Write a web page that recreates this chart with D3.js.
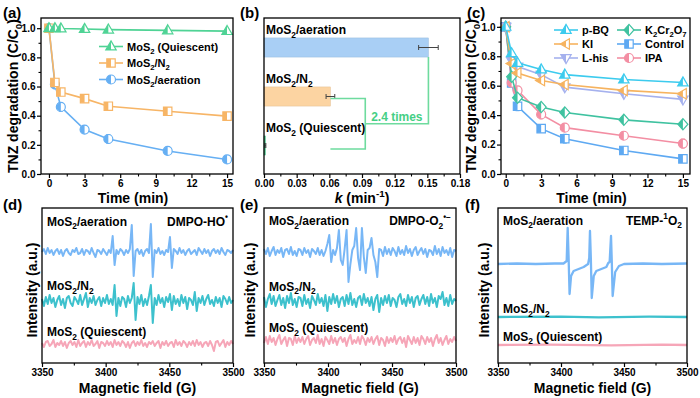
<!DOCTYPE html>
<html>
<head>
<meta charset="utf-8">
<script src="https://cdn.jsdelivr.net/npm/d3@7"></script>
<style>
  body { margin: 0; background: #fff; }
  svg { display: block; font-family: "Liberation Sans", Arial, Helvetica, sans-serif; font-weight: bold; }
</style>
</head>
<body>
<svg id="fig" width="700" height="398"></svg>
<script>
// ---- data: (a) TNZ degradation under different atmospheres ----
const TIMES = [0, 0.5, 1, 3, 5, 10, 15];
const TIME_TICKS = [0, 3, 6, 9, 12, 15];
const RATIO_TICKS = [0, 0.2, 0.4, 0.6, 0.8, 1.0];
const A_NAMES = ['MoS_{2} (Quiescent)', 'MoS_{2}/N_{2}', 'MoS_{2}/aeration'];
const A_QUIESCENT = [1.0, 1.0, 0.998, 0.995, 0.99, 0.985, 0.98];
const A_N2 = [1.0, 0.628, 0.562, 0.517, 0.465, 0.43, 0.397];
const A_AERATION = [1.0, 0.615, 0.46, 0.305, 0.24, 0.158, 0.10];
const A_ERR_QUIESCENT = [0, 0, 0, 0, 0, 0, 0];
const A_ERR_N2 = [0, 0.02, 0.012, 0.01, 0.012, 0.01, 0.01];
const A_ERR_AERATION = [0, 0.03, 0.03, 0.01, 0.03, 0.022, 0.01];

// ---- data: (b) rate constants ----
const B_NAMES = ['MoS_{2}/aeration', 'MoS_{2}/N_{2}', 'MoS_{2} (Quiescent)'];
const B_K = [0.151, 0.061, 0.0013];
const B_ERR = [0.009, 0.004, 0.0004];
const B_RATIO_TEXT = '2.4 times';
const K_TICKS = [0, 0.03, 0.06, 0.09, 0.12, 0.15, 0.18];

// ---- data: (c) scavenger tests ----
const C_NAMES = ['p-BQ', 'KI', 'L-his', 'K_{2}Cr_{2}O_{7}', 'Control', 'IPA'];
const C_PBQ = [1.0, 0.82, 0.755, 0.71, 0.675, 0.642, 0.622];
const C_KI = [1.0, 0.75, 0.686, 0.635, 0.608, 0.568, 0.545];
const C_LHIS = [1.0, 0.77, 0.73, 0.675, 0.59, 0.545, 0.507];
const C_K2CR2O7 = [1.0, 0.66, 0.518, 0.455, 0.418, 0.368, 0.338];
const C_CONTROL = [1.0, 0.618, 0.46, 0.308, 0.24, 0.16, 0.103];
const C_IPA = [1.0, 0.62, 0.568, 0.405, 0.315, 0.26, 0.207];
const C_ERR_LHIS = [0, 0, 0, 0, 0.02, 0.01, 0.01];
const C_ERR_CONTROL = [0, 0.01, 0.03, 0.01, 0.03, 0.025, 0.01];
const C_ERR_IPA = [0, 0, 0.01, 0.03, 0.02, 0.025, 0.03];

// ---- data: (d)-(f) EPR spectra, one value per 1.5 G, intensity in a.u. ----
const FIELD_TICKS = [3350, 3400, 3450, 3500];
const FIELD_MINOR = [3375, 3425, 3475];
const FIELD = d3.range(3350, 3500.01, 1.5);
const EPR_NAMES = ['MoS_{2}/aeration', 'MoS_{2}/N_{2}', 'MoS_{2} (Quiescent)'];

const D_AERATION = [
   0, 3,-2, 4,-1, 2,-3, 1, 3,-2,
   2,-4, 1, 3,-1,-3, 2, 0, 4,-2,
  -1, 3,-3, 2, 1,-2, 4,-1,-5, 2,
   1,-2, 3, 0,-3, 2,-1,16,-13, 2,
  -2, 3, 1,-3, 2,-1, 3,27,-24, 1,
   3,-2, 2,-4, 1, 3,-1,28,-25, 2,
  -1, 4,-2, 1,-3, 2, 0,15,-16, 3,
   1,-2, 4,-1, 2,-3, 1, 3,-2, 0,
   2,-3, 4, 1,-2, 3,-1, 2,-4, 1,
   3,-1, 2,-2, 4, 0,-3, 2, 1,-1, 2];
const D_N2 = [
   2,-5, 4,-3, 6,-2, 3,-6, 1, 5,
  -4, 2,-7, 3, 5,-2,-5, 4, 1,-3,
   6,-4, 2, 8,-6, 3,-2, 5,-4, 1,
   4,-5, 3,-2, 6,-3, 2,-4,16,-15,
   3,-5, 4, 2,-6, 5,-2, 3,18,-19,
   4,-3, 6,-5, 2,-4, 5,16,-22, 3,
  -4, 6,-2, 3,-6, 4,-1, 7,-9, 5,
  -3, 2,-5, 6,-2, 4,-8, 3, 1,-4,
   9,-10, 3,-2, 5,-4, 2, 6,-3, 1,
  -5, 4,-2, 3,-6, 5, 2,-3, 4,-2, 1];
const D_QUIESCENT = [
   1,-3, 2, 3,-2, 0, 4,-3, 1,-1,
   3,-2, 2,-4, 1, 3,-1, 2,-3, 4,
  -2, 1, 3,-3, 2,-1, 4,-2, 0, 3,
  -4, 2, 1,-2, 3,-1, 2,-3, 4,-1,
   2,-2, 3, 1,-3, 2,-4, 1, 3,-2,
   2,-1, 4,-2, 1,-3, 2, 0, 3,-2,
   1, 3,-4, 2,-1, 3,-2, 1, 2,-3,
   4,-1, 2,-2, 3, 1,-3, 2,-1, 3,
  -2, 4,-1, 2,-3, 1, 2,-2, 3,-1,
  -7, 2, 3,-2, 1, 4,-3, 2,-1, 3, 0];

const E_AERATION = [
   3,-2, 4,-4, 1, 5,-3, 2,-1, 4,
  -5, 2, 3,-2, 5,-3, 1,-4, 3, 2,
  -3, 4,-1, 2,-5, 3, 1,-2, 4,-3,
   2,-4, 1, 8,17,-10, 2,-3, 4,22,
  -8,-13, 3,22,-30,-12, 2, 6,24,-6,
  -18,24,-5,-21, 2, 4,14,-3,-10,-25,
   3, 2,-4, 5,-2, 3,-3, 4, 1,-4,
   5,-2, 2,-3, 6,-1, 3,-4, 2, 5,
  -3, 1, 4,-2, 3,-5, 2, 1,-3, 6,
  -2, 3,-4, 5,-1, 2,-3, 4,-5, 2, 1];
const E_N2 = [
   4,-6, 2, 7,-3, 5,-5, 1, 6,-4,
   3,-7, 5,-2, 8,-4, 2,-6, 4, 3,
  -5, 6,-3, 2,-7, 5, 1,-4, 7,-2,
   3,-5, 6,-10, 4,-3, 7,-2, 5,-6,
   2, 4,-5, 6,-3, 8,-4, 2,-6, 3,
   5,-4, 7,-2, 3,-5, 4,-9, 2, 6,
  -11, 3,-4, 5,-2, 6,-5, 3, 1,-6,
   4, 7,-3, 2,-5, 6,-2, 4,-6, 3,
   5,-4, 2, 6,-3, 4,-5, 7,-2, 3,
  -6, 5, 2, 9,-4, 3,-5, 6,-3, 2, 0];
const E_QUIESCENT = [
  -2, 4,-3, 5,-1, 3,-4, 2, 6,-3,
   1, 4,-5, 3, 2,-4, 5,-2, 3,-1,
   4,-3, 2, 5,-4, 1, 3,-2, 6,-3,
   2,-5, 4, 1,-3, 5,-2, 3,-4, 2,
   4,-1, 3,-5, 2, 6,-3, 1,-2, 4,
  -3, 5, 2,-4, 3,-1, 4,-3, 2, 5,
  -4, 3, 1,-5, 4,-2, 3,-1, 5,-3,
   2, 4,-2, 3,-6, 5, 1,-3, 4,-2,
   3,-4, 5, 2,-3, 4,-1, 3,-5, 2,
   6,-2, 3,-4, 1, 5,-3, 2,-1, 4, 0];

// (f) TEMP spectrum as [field, intensity] pairs
const F_AERATION = [
  [3350, 0], [3365, 0.5], [3380, 0], [3395, 0.5], [3402, 0.5], [3404.5, 3],
  [3405.3, 36], [3406, 8], [3406.8, -30], [3408, -12], [3410, -7], [3414, -5],
  [3418, -3], [3421.5, 0], [3422.4, 6], [3423, 33], [3423.7, 5], [3424.4, -34],
  [3426, -12], [3428, -7], [3432, -5], [3436, -3], [3437.5, 1], [3438.6, 2],
  [3439.7, 28], [3440.3, 3], [3441, -32], [3443, -8], [3446, -2], [3450, 0],
  [3465, 0.5], [3480, 0], [3500, 0.5]];
const F_N2 = [[3350, 0], [3400, 0.4], [3430, -0.3], [3470, 0.3], [3500, 0]];
const F_QUIESCENT = [[3350, 0], [3390, 0.3], [3440, -0.3], [3480, 0.3], [3500, 0]];

// ---- layout ----
const PANELS = {
  a: { x0: 41, x1: 233, y0: 18, y1: 174 },
  b: { x0: 264, x1: 460, y0: 18, y1: 174 },
  c: { x0: 501, x1: 690, y0: 18, y1: 174 },
  d: { x0: 42, x1: 233, y0: 208, y1: 363 },
  e: { x0: 264, x1: 456, y0: 208, y1: 363 },
  f: { x0: 498, x1: 687, y0: 208, y1: 363 }
};
const COL = {
  green: '#4fd395', orange: '#f7b566', blue: '#66aff3',
  barBlue: '#a9cff5', barOrange: '#fcd4a2',
  pbq: '#3ccbee', ki: '#f6b35f', lhis: '#a5b1ee', k2: '#3fc2a0', control: '#5ea9f2', ipa: '#f38ea3',
  eprBlue: '#78b7f6', eprTeal: '#3dc1cd', eprPink: '#f6a6b8'
};
const SHAPES = {
  up: 'M0,-5.6L5.2,3.4L-5.2,3.4Z',
  down: 'M0,5.6L5.2,-3.4L-5.2,-3.4Z',
  left: 'M-5.6,0L3.4,-5.2L3.4,5.2Z',
  square: 'M-4.2,-4.2H4.2V4.2H-4.2Z',
  diamond: 'M0,-5.6L5,0L0,5.6L-5,0Z',
  circle: 'M-4.5,0A4.5,4.5 0 1,0 4.5,0A4.5,4.5 0 1,0 -4.5,0Z'
};
const TITLE_FS = 14;

const svg = d3.select('#fig');
svg.append('defs').append('clipPath').attr('id', 'halfL')
  .append('rect').attr('x', -10).attr('y', -10).attr('width', 10).attr('height', 20);

// text with _{sub}, ^{sup} and ~{italic} pieces
function rich(sel, str, fs) {
  const parts = str.split(/(_\{[^}]*\}|\^\{[^}]*\}|~\{[^}]*\})/);
  let shift = 0;
  parts.forEach(p => {
    if (!p) return;
    let t = p, target = 0, size = fs, italic = false;
    if (p[0] === '_' && p[1] === '{') { t = p.slice(2, -1); target = fs * 0.3; size = fs * 0.7; }
    else if (p[0] === '^' && p[1] === '{') { t = p.slice(2, -1); target = -fs * 0.42; size = fs * 0.7; }
    else if (p[0] === '~' && p[1] === '{') { t = p.slice(2, -1); italic = true; }
    const ts = sel.append('tspan').attr('font-size', size).text(t);
    if (target - shift !== 0) ts.attr('dy', target - shift);
    if (italic) ts.attr('font-style', 'italic');
    shift = target;
  });
  return sel;
}

function label(x, y, str, fs, anchor, fill) {
  const t = svg.append('text').attr('x', x).attr('y', y)
    .attr('font-size', fs).attr('text-anchor', anchor || 'start').attr('fill', fill || '#000');
  return rich(t, str, fs);
}

function yTitle(cx, cy, str) {
  const t = svg.append('text').attr('transform', `translate(${cx},${cy}) rotate(-90)`)
    .attr('text-anchor', 'middle').attr('dy', '0.36em').attr('font-size', TITLE_FS);
  rich(t, str, TITLE_FS);
}

function frame(p) {
  svg.append('rect').attr('x', p.x0).attr('y', p.y0)
    .attr('width', p.x1 - p.x0).attr('height', p.y1 - p.y0)
    .attr('fill', 'none').attr('stroke', '#000').attr('stroke-width', 1.3);
}

function bottomAxis(p, x, majors, minors, fmt) {
  const g = svg.append('g').attr('transform', `translate(0,${p.y1})`);
  g.call(d3.axisBottom(x).tickValues(majors).tickSize(4).tickSizeOuter(0).tickFormat(fmt));
  g.call(s => s.select('.domain').remove());
  g.selectAll('.tick line').attr('stroke-width', 1.2);
  g.selectAll('.tick text').attr('font-size', 10).attr('font-family', null).attr('dy', null).attr('y', 13);
  const m = svg.append('g').attr('transform', `translate(0,${p.y1})`);
  m.call(d3.axisBottom(x).tickValues(minors).tickSize(2.5).tickSizeOuter(0).tickFormat(''));
  m.call(s => s.select('.domain').remove());
  m.selectAll('.tick line').attr('stroke-width', 1.1);
}

function leftAxis(p, y, majors, minors, fmt) {
  const g = svg.append('g').attr('transform', `translate(${p.x0},0)`);
  g.call(d3.axisLeft(y).tickValues(majors).tickSize(4).tickSizeOuter(0).tickFormat(fmt));
  g.call(s => s.select('.domain').remove());
  g.selectAll('.tick line').attr('stroke-width', 1.2);
  g.selectAll('.tick text').attr('font-size', 10).attr('font-family', null).attr('x', -5.5);
  const m = svg.append('g').attr('transform', `translate(${p.x0},0)`);
  m.call(d3.axisLeft(y).tickValues(minors).tickSize(2.5).tickSizeOuter(0).tickFormat(''));
  m.call(s => s.select('.domain').remove());
  m.selectAll('.tick line').attr('stroke-width', 1.1);
}

function marker(g, shape, cx, cy, color) {
  const grp = g.append('g').attr('transform', `translate(${cx},${cy})`);
  grp.append('path').attr('d', SHAPES[shape]).attr('fill', '#fff');
  grp.append('path').attr('d', SHAPES[shape]).attr('fill', color).attr('clip-path', 'url(#halfL)');
  grp.append('path').attr('d', SHAPES[shape]).attr('fill', 'none')
    .attr('stroke', color).attr('stroke-width', 1.2);
}

function series(g, x, y, vals, errs, shape, color) {
  const pts = TIMES.map((t, i) => [t, vals[i], errs ? errs[i] : 0]);
  g.append('path').datum(pts)
    .attr('d', d3.line().x(d => x(d[0])).y(d => y(d[1])))
    .attr('fill', 'none').attr('stroke', color).attr('stroke-width', 1.6);
  pts.filter(d => d[2] > 0).forEach(d => {
    const cx = x(d[0]);
    g.append('path')
      .attr('d', `M${cx},${y(d[1] - d[2])}V${y(d[1] + d[2])}M${cx - 2},${y(d[1] - d[2])}H${cx + 2}M${cx - 2},${y(d[1] + d[2])}H${cx + 2}`)
      .attr('stroke', color).attr('stroke-width', 1).attr('fill', 'none');
  });
  pts.forEach(d => marker(g, shape, x(d[0]), y(d[1]), color));
}

function legendRow(g, x, y, shape, color, name, fs) {
  g.append('line').attr('x1', x - 12).attr('x2', x + 12).attr('y1', y).attr('y2', y)
    .attr('stroke', color).attr('stroke-width', 1.6);
  marker(g, shape, x, y, color);
  label(x + 16, y + 4, name, fs);
}

// ================= (a) =================
{
  const p = PANELS.a;
  const x = d3.scaleLinear().domain([-0.67, 15.5]).range([p.x0, p.x1]);
  const y = d3.scaleLinear().domain([0, 1.07]).range([p.y1, p.y0]);
  const g = svg.append('g');
  series(g, x, y, A_AERATION, A_ERR_AERATION, 'circle', COL.blue);
  series(g, x, y, A_N2, A_ERR_N2, 'square', COL.orange);
  series(g, x, y, A_QUIESCENT, A_ERR_QUIESCENT, 'up', COL.green);
  frame(p);
  bottomAxis(p, x, TIME_TICKS, [1.5, 4.5, 7.5, 10.5, 13.5], d3.format('d'));
  leftAxis(p, y, RATIO_TICKS, [0.1, 0.3, 0.5, 0.7, 0.9], d3.format('.1f'));
  const lg = svg.append('g');
  legendRow(lg, 111, 46.5, 'up', COL.green, A_NAMES[0], 11);
  legendRow(lg, 111, 63, 'square', COL.orange, A_NAMES[1], 11);
  legendRow(lg, 111, 79.5, 'circle', COL.blue, A_NAMES[2], 11);
  label((p.x0 + p.x1) / 2 - 4, 203, 'Time (min)', TITLE_FS, 'middle');
  yTitle(13, 96, 'TNZ degradation (C/C_{0})');
  label(3, 18, '(a)', 15);
}

// ================= (b) =================
{
  const p = PANELS.b;
  const x = d3.scaleLinear().domain([0, 0.18]).range([p.x0, p.x1]);
  const yb = d3.scaleBand().domain(B_NAMES).range([p.y0 + 5, p.y1 - 4])
    .paddingInner(0.61).paddingOuter(0.305);
  const bw = yb.bandwidth();
  const fills = [COL.barBlue, COL.barOrange, COL.green];
  const g = svg.append('g');
  B_NAMES.forEach((n, i) => {
    g.append('rect').attr('x', x(0)).attr('y', yb(n))
      .attr('width', x(B_K[i]) - x(0)).attr('height', bw)
      .attr('fill', fills[i]).attr('stroke', d3.color(fills[i]).darker(0.3)).attr('stroke-width', 0.5);
    const cy = yb(n) + bw / 2;
    const lo = x(B_K[i] - B_ERR[i]), hi = x(B_K[i] + B_ERR[i]);
    g.append('path').attr('d', `M${lo},${cy}H${hi}M${lo},${cy - 2.5}V${cy + 2.5}M${hi},${cy - 2.5}V${cy + 2.5}`)
      .attr('stroke', '#444').attr('stroke-width', 1).attr('fill', 'none');
    label(p.x0 + 2, yb(n) - 3.5, n, 12);
  });
  // comparison bracket
  const mid = 0.093;
  const yN2 = yb(B_NAMES[1]) + bw / 2 + 2;
  const yQ = yb(B_NAMES[2]) + bw / 2 + 3.5;
  const yJoin = (yN2 + yQ) / 2;
  const bracket = '#6edb9e';
  g.append('path')
    .attr('d', `M${x(B_K[0])},${yb(B_NAMES[0]) + bw}V${yJoin}H${x(mid)}`)
    .attr('fill', 'none').attr('stroke', bracket).attr('stroke-width', 1.6);
  g.append('path')
    .attr('d', `M${x(B_K[1])},${yN2}H${x(mid)}V${yQ}H${x(B_K[1])}`)
    .attr('fill', 'none').attr('stroke', bracket).attr('stroke-width', 1.6);
  label((x(mid) + x(B_K[0])) / 2, yJoin - 3, B_RATIO_TEXT, 12, 'middle', '#45cf85');
  frame(p);
  bottomAxis(p, x, K_TICKS, d3.range(0.015, 0.18, 0.03), d3.format('.2f'));
  label((p.x0 + p.x1) / 2, 203, '~{k} (min^{-1})', TITLE_FS, 'middle');
  label(240, 18, '(b)', 15);
}

// ================= (c) =================
{
  const p = PANELS.c;
  const x = d3.scaleLinear().domain([-0.4, 15.6]).range([p.x0, p.x1]);
  const y = d3.scaleLinear().domain([0, 1.06]).range([p.y1, p.y0]);
  const g = svg.append('g');
  series(g, x, y, C_CONTROL, C_ERR_CONTROL, 'square', COL.control);
  series(g, x, y, C_IPA, C_ERR_IPA, 'circle', COL.ipa);
  series(g, x, y, C_K2CR2O7, null, 'diamond', COL.k2);
  series(g, x, y, C_LHIS, C_ERR_LHIS, 'down', COL.lhis);
  series(g, x, y, C_KI, null, 'left', COL.ki);
  series(g, x, y, C_PBQ, null, 'up', COL.pbq);
  frame(p);
  bottomAxis(p, x, TIME_TICKS, [1.5, 4.5, 7.5, 10.5, 13.5], d3.format('d'));
  leftAxis(p, y, RATIO_TICKS, [0.1, 0.3, 0.5, 0.7, 0.9], d3.format('.1f'));
  const lg = svg.append('g');
  const shapes = ['up', 'left', 'down', 'diamond', 'square', 'circle'];
  const cols = [COL.pbq, COL.ki, COL.lhis, COL.k2, COL.control, COL.ipa];
  C_NAMES.forEach((n, i) => {
    const cx = i < 3 ? 566 : 629;
    const cy = 30 + (i % 3) * 14;
    legendRow(lg, cx, cy, shapes[i], cols[i], n, 11);
  });
  label((p.x0 + p.x1) / 2 - 4, 203, 'Time (min)', TITLE_FS, 'middle');
  yTitle(471, 96, 'TNZ degradation (C/C_{0})');
  label(467, 18, '(c)', 15);
}

// ================= (d)-(f) EPR =================
function eprPanel(p, traces, offsets, colors, widths, labelY, tag, letter, letterX, titleX) {
  const x = d3.scaleLinear().domain([3350, 3500]).range([p.x0, p.x1]);
  const y = d3.scaleLinear().domain([0, 155]).range([p.y1, p.y0]);
  const g = svg.append('g');
  traces.forEach((tr, k) => {
    const pts = Array.isArray(tr[0]) ? tr.map(d => [d[0], offsets[k] + d[1]])
      : FIELD.map((f, i) => [f, offsets[k] + tr[i]]);
    g.append('path').datum(pts)
      .attr('d', d3.line().x(d => x(d[0])).y(d => y(d[1])))
      .attr('fill', 'none').attr('stroke', colors[k]).attr('stroke-width', widths[k])
      .attr('stroke-linejoin', 'round');
  });
  EPR_NAMES.forEach((n, k) => label(p.x0 + 5, y(labelY[k]), n, 12));
  label(p.x1 - 5, y(labelY[0]), tag, 12, 'end');
  frame(p);
  bottomAxis(p, x, FIELD_TICKS, FIELD_MINOR, d3.format('d'));
  label((p.x0 + p.x1) / 2, 393, 'Magnetic field (G)', TITLE_FS, 'middle');
  yTitle(titleX, 290, 'Intensity (a.u.)');
  label(letterX, 210, letter, 15);
}

const EPR_COLORS = [COL.eprBlue, COL.eprTeal, COL.eprPink];
eprPanel(PANELS.d, [D_AERATION, D_N2, D_QUIESCENT], [111, 62, 19], EPR_COLORS, [2, 2, 2],
  [137.5, 73, 27], 'DMPO-HO^{•}', '(d)', 3, 32);
eprPanel(PANELS.e, [E_AERATION, E_N2, E_QUIESCENT], [111, 62, 22], EPR_COLORS, [2, 2, 2],
  [138, 72.5, 31], 'DMPO-O_{2}^{•−}', '(e)', 240, 250);
eprPanel(PANELS.f, [F_AERATION, F_N2, F_QUIESCENT], [99, 46, 18], EPR_COLORS, [2.3, 2.3, 2.3],
  [138.5, 50, 22.5], 'TEMP-^{1}O_{2}', '(f)', 465, 484);
</script>
</body>
</html>
